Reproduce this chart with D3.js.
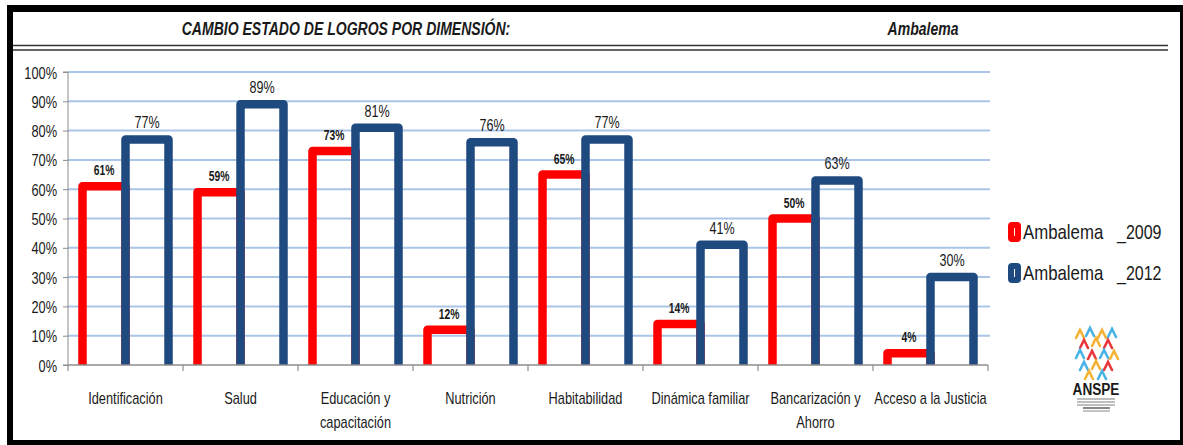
<!DOCTYPE html>
<html>
<head>
<meta charset="utf-8">
<script src="https://cdn.jsdelivr.net/npm/d3@7"></script>
<style>
  body { margin: 0; background: #fff; }
  svg text { font-family: "Liberation Sans", Arial, sans-serif; fill: #1a1a1a; }
</style>
</head>
<body>
<svg id="chart" width="1183" height="445"></svg>
<script>
// Data
const categories = [
    ['Identificación'],
    ['Salud'],
    ['Educación y', 'capacitación'],
    ['Nutrición'],
    ['Habitabilidad'],
    ['Dinámica familiar'],
    ['Bancarización y', 'Ahorro'],
    ['Acceso a la Justicia']
];
const values2009 = [61, 59, 73, 12, 65, 14, 50, 4];
const values2012 = [77, 89, 81, 76, 77, 41, 63, 30];
const seriesNames = [['Ambalema', '_2009'], ['Ambalema', '_2012']];
const yTicks = [0, 10, 20, 30, 40, 50, 60, 70, 80, 90, 100];

const RED = '#ff0000';
const BLUE = '#1f4a80';

const svg = d3.select('#chart');

// narrow text: the source font is a condensed one, squeeze horizontally
function narrow(sel, fx, fy, sx) {
    sel.attr('transform', (d, i) => `translate(${fx(d, i)},${fy(d, i)}) scale(${sx},1)`);
    return sel;
}

// Frame
svg.append('rect').attr('x', 7).attr('y', 5).attr('width', 1176).attr('height', 440).attr('fill', '#000');
svg.append('rect').attr('x', 13).attr('y', 12).attr('width', 1167).attr('height', 428).attr('fill', '#fff');

// Header
const header = svg.append('g')
    .selectAll('text')
    .data([[346, 'CAMBIO ESTADO DE LOGROS POR DIMENSIÓN:'], [923, 'Ambalema']])
    .join('text')
    .attr('text-anchor', 'middle')
    .style('font-size', '18px').style('font-weight', 'bold').style('font-style', 'italic')
    .text(d => d[1]);
narrow(header, d => d[0], () => 35, 0.78);
[45.5, 50].forEach(yy => {
    svg.append('line')
        .attr('x1', 13).attr('x2', 1168).attr('y1', yy).attr('y2', yy)
        .attr('stroke', '#333').attr('stroke-width', 1.6);
});

// Scales
const x = d3.scaleBand().domain(d3.range(categories.length)).range([68, 988]).padding(0);
const sub = d3.scaleBand().domain(['2009', '2012']).range([14.5, 100.5]).padding(0);
const y = d3.scaleLinear().domain([0, 100]).range([365, 72]);

// Gridlines
svg.append('g')
    .selectAll('line')
    .data(yTicks.filter(t => t > 0))
    .join('line')
    .attr('x1', 68).attr('x2', 990)
    .attr('y1', d => y(d)).attr('y2', d => y(d))
    .attr('stroke', '#a9c5e8').attr('stroke-width', 2);

// Y axis
const yAxis = svg.append('g')
    .attr('transform', 'translate(68,0)')
    .call(d3.axisLeft(y).tickValues(yTicks).tickFormat(d => d + '%').tickSize(5).tickPadding(6));
yAxis.select('.domain').attr('stroke', '#8c8c8c').attr('d', 'M-5,72H0V365H-5');
yAxis.selectAll('.tick line').attr('stroke', '#8c8c8c');
const yLab = yAxis.selectAll('.tick text')
    .attr('x', null).attr('dy', null)
    .style('font-size', '16px').attr('fill', '#1a1a1a');
narrow(yLab, () => -11, () => 6, 0.8);

// Bars (clipped at the category axis)
svg.append('clipPath').attr('id', 'plotClip')
    .append('rect').attr('x', 60).attr('y', 40).attr('width', 940).attr('height', 325);

const series = [
    { key: '2009', values: values2009, color: RED },
    { key: '2012', values: values2012, color: BLUE }
];
const bars = svg.append('g').attr('clip-path', 'url(#plotClip)');
series.forEach(s => {
    bars.append('g')
        .selectAll('rect')
        .data(s.values)
        .join('rect')
        .attr('x', (d, i) => x(i) + sub(s.key))
        .attr('width', sub.bandwidth())
        .attr('y', d => y(d))
        .attr('height', d => y(0) - y(d) + 6)
        .attr('fill', 'none')
        .attr('stroke', s.color)
        .attr('stroke-width', 8.5)
        .attr('stroke-linejoin', 'round');
});

// X axis
svg.append('line')
    .attr('x1', 68).attr('x2', 988).attr('y1', 365).attr('y2', 365)
    .attr('stroke', '#8c8c8c').attr('stroke-width', 1.5);
svg.append('g')
    .selectAll('line')
    .data(d3.range(categories.length + 1))
    .join('line')
    .attr('x1', d => 68 + d * x.bandwidth()).attr('x2', d => 68 + d * x.bandwidth())
    .attr('y1', 365).attr('y2', 371)
    .attr('stroke', '#8c8c8c').attr('stroke-width', 1.2);

const labelLines = [];
categories.forEach((lines, i) => lines.forEach((t, j) => labelLines.push({ i, j, t })));
const xLab = svg.append('g')
    .selectAll('text')
    .data(labelLines)
    .join('text')
    .attr('text-anchor', 'middle')
    .style('font-size', '16px')
    .text(d => d.t);
narrow(xLab, d => x(d.i) + x.bandwidth() / 2, d => 404 + d.j * 24, 0.8);

// Data labels
const lab09 = svg.append('g')
    .selectAll('text')
    .data(values2009)
    .join('text')
    .attr('text-anchor', 'middle')
    .style('font-size', '14px').style('font-weight', 'bold')
    .text(d => d + '%');
narrow(lab09, (d, i) => x(i) + sub('2009') + sub.bandwidth() / 2, d => y(d) - 11, 0.74);
const lab12 = svg.append('g')
    .selectAll('text')
    .data(values2012)
    .join('text')
    .attr('text-anchor', 'middle')
    .style('font-size', '17px')
    .text(d => d + '%');
narrow(lab12, (d, i) => x(i) + sub('2012') + sub.bandwidth() / 2, d => y(d) - 11, 0.74);

// Legend
const legend = svg.append('g')
    .selectAll('g')
    .data(series)
    .join('g')
    .attr('transform', (d, i) => `translate(1008,${222 + i * 41})`);
legend.append('rect')
    .attr('x', 3).attr('y', 3).attr('width', 7).attr('height', 14)
    .attr('fill', '#fff')
    .attr('stroke', d => d.color).attr('stroke-width', 6)
    .attr('rx', 1);
const legA = legend.append('text')
    .style('font-size', '20px')
    .text((d, i) => seriesNames[i][0]);
narrow(legA, () => 15, () => 17, 0.84);
const legB = legend.append('text')
    .style('font-size', '20px')
    .text((d, i) => seriesNames[i][1]);
narrow(legB, () => 109, () => 17, 0.8);

// Logo (approximation)
const logo = svg.append('g').attr('transform', 'translate(1074,328)');
const marks = [
    [6, 6, '#f5b335'], [16, 4, '#49b3e6'], [28, 6, '#f5b335'], [38, 5, '#49b3e6'],
    [10, 16, '#e8383d'], [22, 14, '#f5b335'], [34, 16, '#e8383d'],
    [6, 26, '#49b3e6'], [18, 27, '#e8383d'], [30, 26, '#49b3e6'], [40, 27, '#f5b335'],
    [10, 38, '#49b3e6'], [22, 37, '#f5b335'], [34, 38, '#e8383d'],
    [15, 47, '#f5b335'], [28, 47, '#49b3e6']
];
logo.selectAll('path')
    .data(marks)
    .join('path')
    .attr('d', d => `M${d[0] - 4},${d[1] + 4}L${d[0]},${d[1] - 4}L${d[0] + 4},${d[1] + 4}`)
    .attr('fill', 'none')
    .attr('stroke', d => d[2])
    .attr('stroke-width', 2.6)
    .attr('stroke-linecap', 'round');
const logoText = logo.append('text')
    .attr('text-anchor', 'middle')
    .style('font-size', '17px').style('font-weight', 'bold')
    .attr('fill', '#333')
    .text('ANSPE');
logoText.attr('transform', 'translate(22,67) scale(0.8,1)');
[71, 74, 77, 80, 83].forEach((yy, i) => {
    logo.append('line')
        .attr('x1', i < 3 ? 3 : 9).attr('x2', i < 3 ? 41 : 36)
        .attr('y1', yy).attr('y2', yy)
        .attr('stroke', i === 3 ? '#555' : '#aaa').attr('stroke-width', 1.4);
});
</script>
</body>
</html>
